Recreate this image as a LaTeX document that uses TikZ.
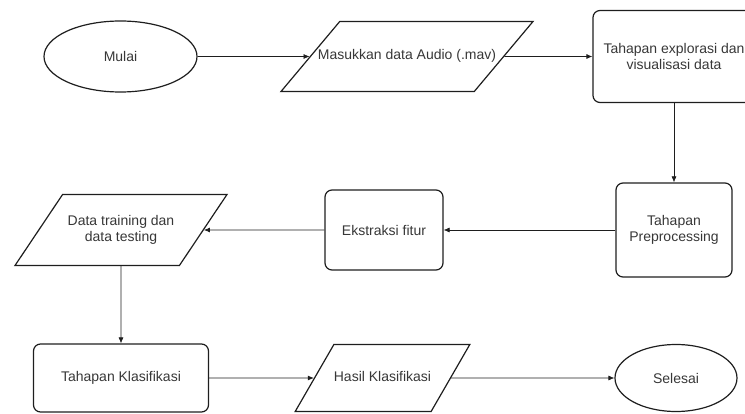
\documentclass[tikz,border=0pt]{standalone}
\usepackage{fontspec}
\setmainfont{Liberation Sans}
\definecolor{fcline}{RGB}{30,30,30}
\definecolor{fctext}{RGB}{55,55,55}
\usetikzlibrary{arrows.meta,positioning,shapes.geometric}

\begin{document}
\begin{tikzpicture}[x=1pt,y=-1pt,font=\fontsize{14}{16.5}\selectfont,
  proc/.style={draw=fcline,line width=1.2pt,rounded corners=7pt,align=center,text=fctext},
  io/.style={draw=fcline,line width=1.2pt,trapezium,trapezium stretches body,inner xsep=0pt,align=center,text=fctext},
  oneline/.style={text height=10pt,text depth=3pt},
  term/.style={draw=fcline,line width=1.2pt,ellipse,inner sep=0pt,text=fctext},
  arr/.style={draw=fcline,line width=0.7pt,-{Latex[length=6pt,width=5pt]}}]
\useasboundingbox (0,0) rectangle (745,414);
\clip (0,0) rectangle (745,414);
\node[term,minimum width=153pt,minimum height=71pt] (mulai) at (120.5,56.5) {Mulai};
\node[io,oneline,inner ysep=28.5pt,inner xsep=-24pt,trapezium left angle=50,trapezium right angle=130,minimum width=252pt] (masuk) at (407,56.5) {Masukkan data Audio (.mav)};
\node[proc,minimum width=162pt,minimum height=92pt] (expl) at (674,56.5) {Tahapan explorasi dan\\visualisasi data};
\node[proc,minimum width=116pt,minimum height=94pt] (prep) at (674,230) {Tahapan\\Preprocessing};
\node[proc,minimum width=118pt,minimum height=80pt] (ekst) at (384,230) {Ekstraksi fitur};
\node[io,inner ysep=20.5pt,trapezium left angle=56,trapezium right angle=124,minimum width=212pt,minimum height=71pt] (data) at (121,230) {Data training dan\\data testing};
\node[proc,minimum width=175pt,minimum height=68pt] (klas) at (121,378) {Tahapan Klasifikasi};
\node[io,oneline,inner ysep=27pt,trapezium left angle=60,trapezium right angle=120,minimum width=159pt] (hasil) at (382.5,378) {Hasil Klasifikasi};
\node[term,minimum width=122pt,minimum height=67pt] (sel) at (676,378) {Selesai};
\draw[arr] (mulai) -- (masuk);
\draw[arr] (masuk) -- (expl);
\draw[arr] (expl) -- (prep);
\draw[arr] (prep) -- (ekst);
\draw[arr] (ekst) -- (data);
\draw[arr] (data) -- (klas);
\draw[arr] (klas) -- (hasil);
\draw[arr] (hasil) -- (sel);
\end{tikzpicture}
\end{document}
